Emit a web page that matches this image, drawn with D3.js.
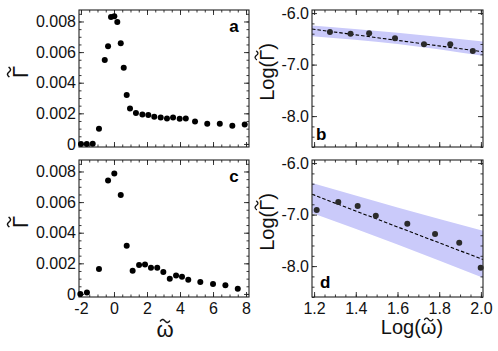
<!DOCTYPE html>
<html><head><meta charset="utf-8">
<script src="https://cdn.jsdelivr.net/npm/d3@7"></script>
<style>
body{margin:0;background:#fff}
svg{display:block}
text{font-family:"Liberation Sans",Arial,sans-serif}
</style>
</head><body>
<svg id="chart" width="498" height="351"></svg>
<script>
// ---- data ----
const omegaA = [-2.0,-1.65,-1.29,-0.91,-0.56,-0.36,-0.18,0.02,0.2,0.41,0.59,0.77,0.97,1.33,1.72,2.08,2.44,2.83,3.21,3.58,3.98,4.35,4.91,5.65,6.41,7.17,7.92];
const gammaA = [0,0,0.00002,0.00099,0.00548,0.00638,0.00829,0.00834,0.00796,0.00657,0.00497,0.00319,0.00231,0.00202,0.00193,0.00189,0.00178,0.00172,0.00167,0.00172,0.00165,0.00167,0.00147,0.00132,0.00132,0.00119,0.00127];
const omegaC = [-2.04,-1.64,-0.91,-0.36,0.02,0.41,0.77,1.13,1.52,1.88,2.24,2.62,2.99,3.38,3.76,4.12,4.5,5.23,6.0,6.75,7.5];
const gammaC = [0,0.0001,0.00163,0.00741,0.00787,0.00646,0.00314,0.00151,0.00189,0.00192,0.00171,0.00171,0.00143,0.00099,0.00121,0.00112,0.00093,0.00078,0.00065,0.00056,0.00034];

const logOmegaB = [1.276,1.375,1.464,1.588,1.727,1.853,1.961];
const logGammaB = [-6.367,-6.4,-6.392,-6.49,-6.606,-6.606,-6.736];
const fitXB = [1.19,2.01];
const fitYB = [-6.31,-6.75];
const bandXB = [1.19,1.6,2.01];
const bandUpB = [-6.24,-6.38,-6.55];
const bandLoB = [-6.45,-6.6,-6.83];

const logOmegaD = [1.2125,1.316,1.409,1.496,1.647,1.78,1.896,1.999];
const logGammaD = [-6.911,-6.756,-6.834,-7.022,-7.177,-7.377,-7.546,-8.031];
const fitXD = [1.19,2.01];
const fitYD = [-6.606,-7.872];
const bandXD = [1.19,1.6,2.01];
const bandUpD = [-6.387,-6.86,-7.315];
const bandLoD = [-6.97,-7.58,-8.227];

const linTicksX = [-2,0,2,4,6,8];
const linTicksY = [0,0.002,0.004,0.006,0.008];
const logTicksX = [1.2,1.4,1.6,1.8,2.0];
const logTicksY = [-6,-7,-8];

// ---- drawing ----
const svg = d3.select("#chart");
const FS = 16;

function range(a,b,s){const r=[];for(let v=a;v<=b+1e-9;v+=s)r.push(+v.toFixed(6));return r;}

function panel(o){
  const g = svg.append("g").attr("transform",`translate(${o.x0},${o.y0})`);
  const x = d3.scaleLinear().domain(o.xd).range([0,o.w]);
  const y = d3.scaleLinear().domain(o.yd).range([o.h,0]);
  if(o.band){
    const area = d3.area().x((d,i)=>x(o.band.x[i])).y0((d,i)=>y(o.band.lo[i])).y1((d,i)=>y(o.band.up[i])).curve(d3.curveMonotoneX);
    g.append("path").datum(o.band.x).attr("d",area).attr("fill","#cacafa");
  }
  if(o.fit){
    const line = d3.line().x((d,i)=>x(o.fit.x[i])).y((d,i)=>y(o.fit.y[i]));
    g.append("path").datum(o.fit.x).attr("d",line).attr("fill","none").attr("stroke","#000").attr("stroke-width",1.1).attr("stroke-dasharray","3.5,2");
  }
  const xMinor = range(o.xMinor[0],o.xMinor[1],o.xMinor[2]).filter(v=>v>=o.xd[0]&&v<=o.xd[1]);
  const yMinor = range(o.yMinor[0],o.yMinor[1],o.yMinor[2]).filter(v=>v>=o.yd[0]&&v<=o.yd[1]);
  function styleAx(sel){sel.select(".domain").remove();sel.selectAll("line").attr("stroke","#222").attr("stroke-width",0.9);sel.selectAll("text").attr("font-size",FS).attr("fill","#111").style("font-family","'Liberation Sans',Arial,sans-serif");}
  styleAx(g.append("g").attr("transform",`translate(0,${o.h})`)
    .call(d3.axisBottom(x).tickValues(o.xt).tickSize(-5).tickPadding(5.5).tickFormat(o.showX?o.xf:"")));
  styleAx(g.append("g").attr("transform",`translate(0,${o.h})`).call(d3.axisBottom(x).tickValues(xMinor).tickSize(-2.5).tickFormat("")));
  styleAx(g.append("g").call(d3.axisTop(x).tickValues(o.xt).tickSize(-5).tickFormat("")));
  styleAx(g.append("g").call(d3.axisTop(x).tickValues(xMinor).tickSize(-2.5).tickFormat("")));
  styleAx(g.append("g").call(d3.axisLeft(y).tickValues(o.yt).tickSize(-5).tickPadding(3).tickFormat(o.yf)));
  styleAx(g.append("g").call(d3.axisLeft(y).tickValues(yMinor).tickSize(-2.5).tickFormat("")));
  styleAx(g.append("g").attr("transform",`translate(${o.w},0)`).call(d3.axisRight(y).tickValues(o.yt).tickSize(-5).tickFormat("")));
  styleAx(g.append("g").attr("transform",`translate(${o.w},0)`).call(d3.axisRight(y).tickValues(yMinor).tickSize(-2.5).tickFormat("")));
  g.append("rect").attr("width",o.w).attr("height",o.h).attr("fill","none").attr("stroke","#222").attr("stroke-width",1.1);
  g.selectAll("circle.pt").data(o.px).join("circle").attr("class","pt")
    .attr("cx",d=>x(d)).attr("cy",(d,i)=>y(o.py[i])).attr("r",3).attr("fill",o.pc);
  g.append("text").attr("x",o.lx).attr("y",o.ly).attr("text-anchor",o.la).attr("font-size",17).attr("font-weight","bold").text(o.letter);
  return g;
}

const fmtLinY = d => d===0 ? "0" : d3.format(".3f")(d);
const fmtLinX = d => String(d);
const fmtLog = d => d.toFixed(1);

const linXD = [-2.12,8.18], linYD = [-0.0002,0.00875];
const logXD = [1.19,2.01], logYD = [-8.6,-5.94];

panel({x0:79,y0:10,w:170,h:137,xd:linXD,yd:linYD,xt:linTicksX,yt:linTicksY,xMinor:[-2,8,0.5],yMinor:[0,0.0085,0.0005],
  xf:fmtLinX,yf:fmtLinY,showX:false,px:omegaA,py:gammaA,pc:"#000",letter:"a",lx:155,ly:22,la:"middle"});
panel({x0:79,y0:160,w:170,h:137,xd:linXD,yd:linYD,xt:linTicksX,yt:linTicksY,xMinor:[-2,8,0.5],yMinor:[0,0.0085,0.0005],
  xf:fmtLinX,yf:fmtLinY,showX:true,px:omegaC,py:gammaC,pc:"#000",letter:"c",lx:155,ly:22,la:"middle"});
panel({x0:312,y0:10,w:171,h:137,xd:logXD,yd:logYD,xt:logTicksX,yt:logTicksY,xMinor:[1.2,2.0,0.05],yMinor:[-8.6,-6,0.2],
  xf:fmtLog,yf:fmtLog,showX:false,px:logOmegaB,py:logGammaB,pc:"#2b2b2b",
  band:{x:bandXB,up:bandUpB,lo:bandLoB},fit:{x:fitXB,y:fitYB},letter:"b",lx:4,ly:130,la:"start"});
panel({x0:312,y0:160,w:171,h:137,xd:logXD,yd:logYD,xt:logTicksX,yt:logTicksY,xMinor:[1.2,2.0,0.05],yMinor:[-8.6,-6,0.2],
  xf:fmtLog,yf:fmtLog,showX:true,px:logOmegaD,py:logGammaD,pc:"#2b2b2b",
  band:{x:bandXD,up:bandUpD,lo:bandLoD},fit:{x:fitXD,y:fitYD},letter:"d",lx:8,ly:128,la:"start"});

// axis titles with a drawn tilde above one character
function tildeLabel(x,y,rot,str,idx,fs,rise){
  const g = svg.append("g").attr("transform",`translate(${x},${y}) rotate(${rot})`);
  const t = g.append("text").attr("text-anchor","middle").attr("font-size",fs).attr("fill","#111").text(str);
  const e = t.node().getExtentOfChar(idx);
  const cx = e.x + e.width/2, w = fs*0.42, a = fs*0.07;
  const pts = d3.range(0,1.0001,0.05).map(s=>[cx+(s-0.5)*w, -rise - a*Math.sin(2*Math.PI*s)]);
  g.append("path").attr("d",d3.line()(pts)).attr("fill","none").attr("stroke","#111").attr("stroke-width",fs*0.065).attr("stroke-linecap","round");
}
tildeLabel(28,72,-90,"\u0393",0,22,19);
tildeLabel(28,222,-90,"\u0393",0,22,19);
tildeLabel(274,72,-90,"Log(\u0393)",4,20,17.5);
tildeLabel(274,222,-90,"Log(\u0393)",4,20,17.5);
tildeLabel(165,337,0,"\u03C9",0,22,16);
tildeLabel(412,334,0,"Log(\u03C9)",4,20,14.5);
</script>
</body></html>
